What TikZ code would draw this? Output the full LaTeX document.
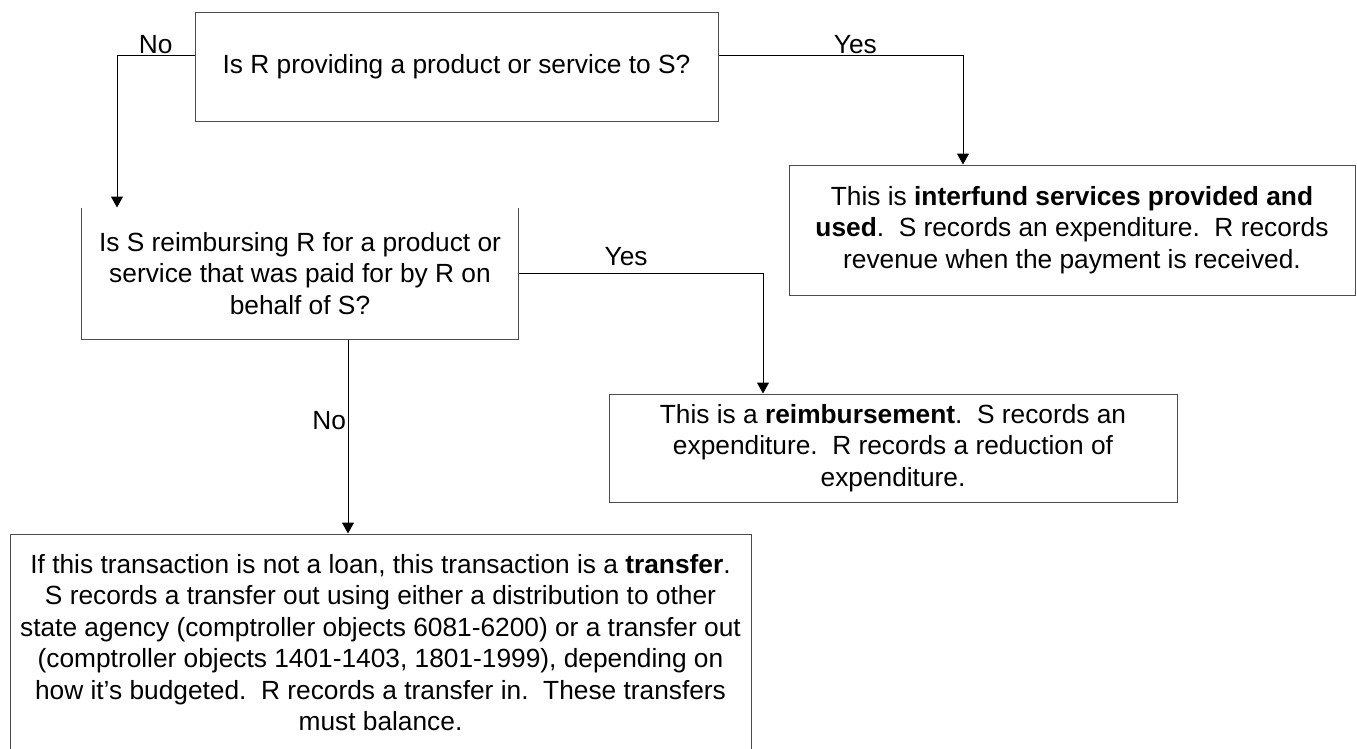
\documentclass[tikz,border=0pt]{standalone}
\usepackage{fontspec}
\setmainfont{Liberation Sans}
\usetikzlibrary{arrows.meta}
\newcommand{\boxfont}{\fontsize{26.3}{31.5}\selectfont}
\begin{document}
\begin{tikzpicture}[x=1pt,y=-1pt,
    box/.style={draw=black!70,line width=1pt,inner sep=0pt,align=center,font=\boxfont},
    arr/.style={line width=1pt,-{Triangle[length=11pt,width=12pt]}},
    lbl/.style={font=\boxfont,inner sep=1.5pt,text depth=0pt}]
    \useasboundingbox (0,0) rectangle (1357,748);
    \clip (0,0) rectangle (1357,748);
    % questions
    \node[box,minimum width=523pt,minimum height=109pt] (Q1) at (456.5,66.5) {Is R providing a product or service to S?};
    \node[box,draw=none,minimum width=436pt,minimum height=131pt] (Q2) at (300,273.5) {Is S reimbursing R for a product or\\service that was paid for by R on\\behalf of S?};
    \draw[black!70,line width=1pt] (Q2.north west) -- (Q2.south west) -- (Q2.south east) -- (Q2.north east);
    % answers
    \node[box,minimum width=566pt,minimum height=130pt] (A1) at (1072,230) {This is \textbf{interfund services provided and}\\\textbf{used}.\ \ S records an expenditure.\ \ R records\\revenue when the payment is received.};
    \node[box,minimum width=568pt,minimum height=108pt] (A2) at (893,448) {This is a \textbf{reimbursement}.\ \ S records an\\expenditure.\ \ R records a reduction of\\expenditure.};
    \node[box,minimum width=741pt,minimum height=217pt] (A3) at (380.5,642.5) {If this transaction is not a loan, this transaction is a \textbf{transfer}.\\S records a transfer out using either a distribution to other\\state agency (comptroller objects 6081-6200) or a transfer out\\(comptroller objects 1401-1403, 1801-1999), depending on\\how it’s budgeted.\ \ R records a transfer in.\ \ These transfers\\must balance.};
    % connectors
    \coordinate (nL) at (117,55);
    \coordinate (yR) at (963,55);
    \coordinate (yM) at (763,273);
    \coordinate (nD) at (348,0);
    \draw[arr] (Q1.west |- nL) -- node[lbl,above]{No} (nL) -- (nL |- Q2.north);
    \draw[arr] (Q1.east |- yR) -- node[lbl,above,pos=0.56]{Yes} (yR) -- (yR |- A1.north);
    \draw[arr] (Q2.east |- yM) -- node[lbl,above=5.5pt,pos=0.44]{Yes} (yM) -- (yM |- A2.north);
    \draw[arr] (Q2.south -| nD) -- node[lbl,left,pos=0.415]{No} (nD |- A3.north);
\end{tikzpicture}
\end{document}
